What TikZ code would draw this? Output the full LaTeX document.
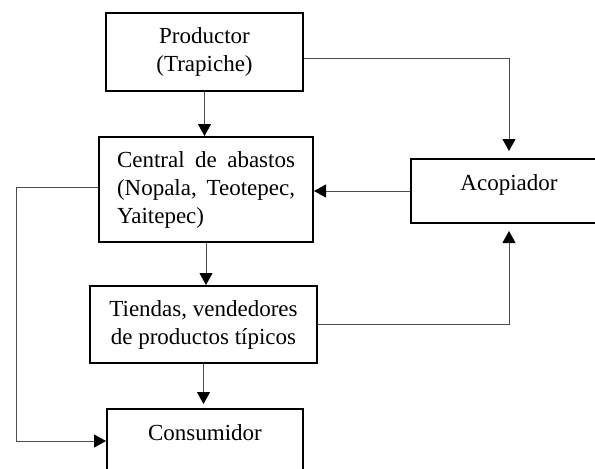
\documentclass[tikz,border=0pt]{standalone}
\usepackage{fontspec}
\setmainfont{Liberation Serif}
\usetikzlibrary{arrows.meta}

\begin{document}
\begin{tikzpicture}[x=0.5pt, y=-0.5pt,
    caja/.style={draw, line width=1pt, font=\fontsize{11.5}{14}\selectfont, align=center, inner sep=0pt},
    cajabaja/.style={caja, minimum width=98pt, minimum height=32pt, text height=8pt, text depth=9pt},
    flecha/.style={draw=black!70, line width=0.5pt, -{Triangle[width=6.5pt, length=6pt, color=black]}}]
    \useasboundingbox (0,0) rectangle (595,468);
    \clip (0,0) rectangle (595,468);
    % cajas
    \node[caja, minimum width=98.5pt, minimum height=39pt] (productor) at (204.5,52) {Productor\\(Trapiche)};
    \node[caja, minimum width=107pt, minimum height=52.5pt, text width=89pt, align=left] (central) at (206,189.5)
        {Central\hfill de\hfill abastos\\(Nopala,\hfill Teotepec,\\Yaitepec)};
    \node[cajabaja] (acopiador) at (509,191) {Acopiador};
    \node[caja, minimum width=113.5pt, minimum height=38.5pt] (tiendas) at (203.5,324.5) {Tiendas, vendedores\\de productos típicos};
    \node[cajabaja] (consumidor) at (205,441) {Consumidor};
    \coordinate (margen) at (16,0);
    % flechas
    \draw[flecha] (productor.south) -- (productor.south |- central.north);
    \draw[flecha, shorten >=3.5pt] ([yshift=-3pt]productor.east) -| (acopiador.north);
    \draw[flecha] (acopiador.west) -- (acopiador.west -| central.east);
    \draw[flecha] (central.south) -- (central.south |- tiendas.north);
    \draw[flecha, shorten >=3.5pt] (tiendas.east) -| (acopiador.south);
    \draw[flecha, shorten >=2pt] (tiendas.south) -- (tiendas.south |- consumidor.north);
    \draw[flecha] ([yshift=1pt]central.west) -- ([yshift=1pt]central.west -| margen) |- (consumidor.west);
\end{tikzpicture}
\end{document}
